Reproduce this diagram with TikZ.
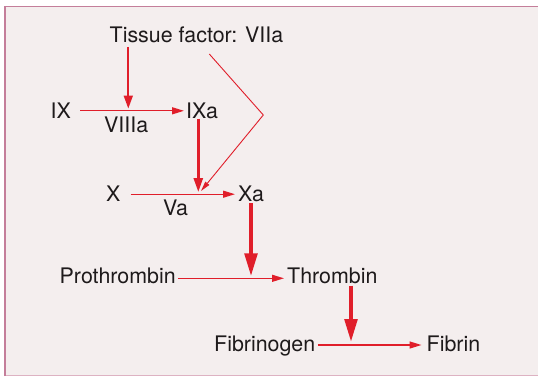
\documentclass[tikz,border=0pt]{standalone}
\usepackage{fontspec}
\setmainfont{TeX Gyre Heros}
\usetikzlibrary{arrows.meta,calc}
\definecolor{bgc}{HTML}{F4EEEE}
\definecolor{brd}{HTML}{C47E9A}
\definecolor{brdl}{HTML}{DDB2C2}
\definecolor{arr}{HTML}{E01E2A}
\definecolor{txt}{HTML}{1E1A1B}
\begin{document}
\begin{tikzpicture}[x=1pt,y=-1pt,
  lbl/.style={anchor=base west, inner sep=0pt, text height=15pt, text depth=0pt, font=\fontsize{21.4}{25}\selectfont, text=txt},
  hline/.style={draw=arr, line width=1.3pt, -{Triangle[length=12pt,width=7pt]}},
  tfline/.style={draw=arr, line width=1.8pt, -{Triangle[length=13pt,width=9pt]}},
  ixaline/.style={draw=arr, line width=2.6pt, -{Triangle[length=14pt,width=9pt]}},
  angline/.style={draw=arr, line width=0.9pt, -{Triangle[length=10pt,width=5pt]}},
  thickline/.style={draw=arr, line width=4pt, -{Triangle[length=23pt,width=12.5pt]}}]
\useasboundingbox (0,0) rectangle (538,376);
\fill[white] (0,0) rectangle (538,376);
\fill[bgc] (5,7) rectangle (538,375);
\draw[brdl, line width=1pt] (5,375) -- (538,375);
\draw[brd, line width=1.6pt] (4.8,376) -- (4.8,6.6) -- (538,6.6);

\node[lbl] (TF) at (109.5,42.7) {Tissue factor: VIIa};
\node[lbl] (IX) at (50.5,118.3) {IX};
\node[lbl] (IXa) at (186,118.3) {IXa};
\node[lbl] (VIIIa) at (104,132) {VIIIa};
\node[lbl] (X) at (106,201.7) {X};
\node[lbl] (Xa) at (238,201.7) {Xa};
\node[lbl] (Va) at (163,215) {Va};
\node[lbl] (Pro) at (59.5,283) {Prothrombin};
\node[lbl] (Thr) at (287,283) {Thrombin};
\node[lbl] (Fbg) at (214,351.7) {Fibrinogen};
\node[lbl] (Fbn) at (426.5,351.7) {Fibrin};

\coordinate (j1) at (128.3,110);
\coordinate (j2) at (198.3,194);
\coordinate (j3) at (201,191);
\coordinate (a0) at (209.3,54);
\coordinate (ak) at (263.3,115);
\coordinate (j4) at (251,278.3);
\coordinate (j5) at (351,345);

\draw[hline, shorten <=9pt, shorten >=2pt] (IX.east) -- (IXa.west);
\draw[hline, shorten <=10pt, shorten >=3pt] (X.east) -- (Xa.west);
\draw[hline, shorten <=2.5pt, shorten >=3pt] (Pro.east |- j4) -- (Thr.west |- j4);
\draw[hline, shorten <=2.5pt, shorten >=5pt] (Fbg.east |- j5) -- (Fbn.west |- j5);

\draw[tfline, shorten <=4pt, shorten >=1.5pt] (TF.south -| j1) -- (j1);
\draw[ixaline, shorten >=2pt] (IXa.south -| j2) -- (j2);
\draw[angline] (a0) -- (ak) -- (j3);
\draw[thickline, shorten <=1.5pt, shorten >=2pt] (Xa.south -| j4) -- (j4);
\draw[thickline, shorten <=2.5pt, shorten >=3pt] (Thr.south -| j5) -- (j5);
\end{tikzpicture}
\end{document}
